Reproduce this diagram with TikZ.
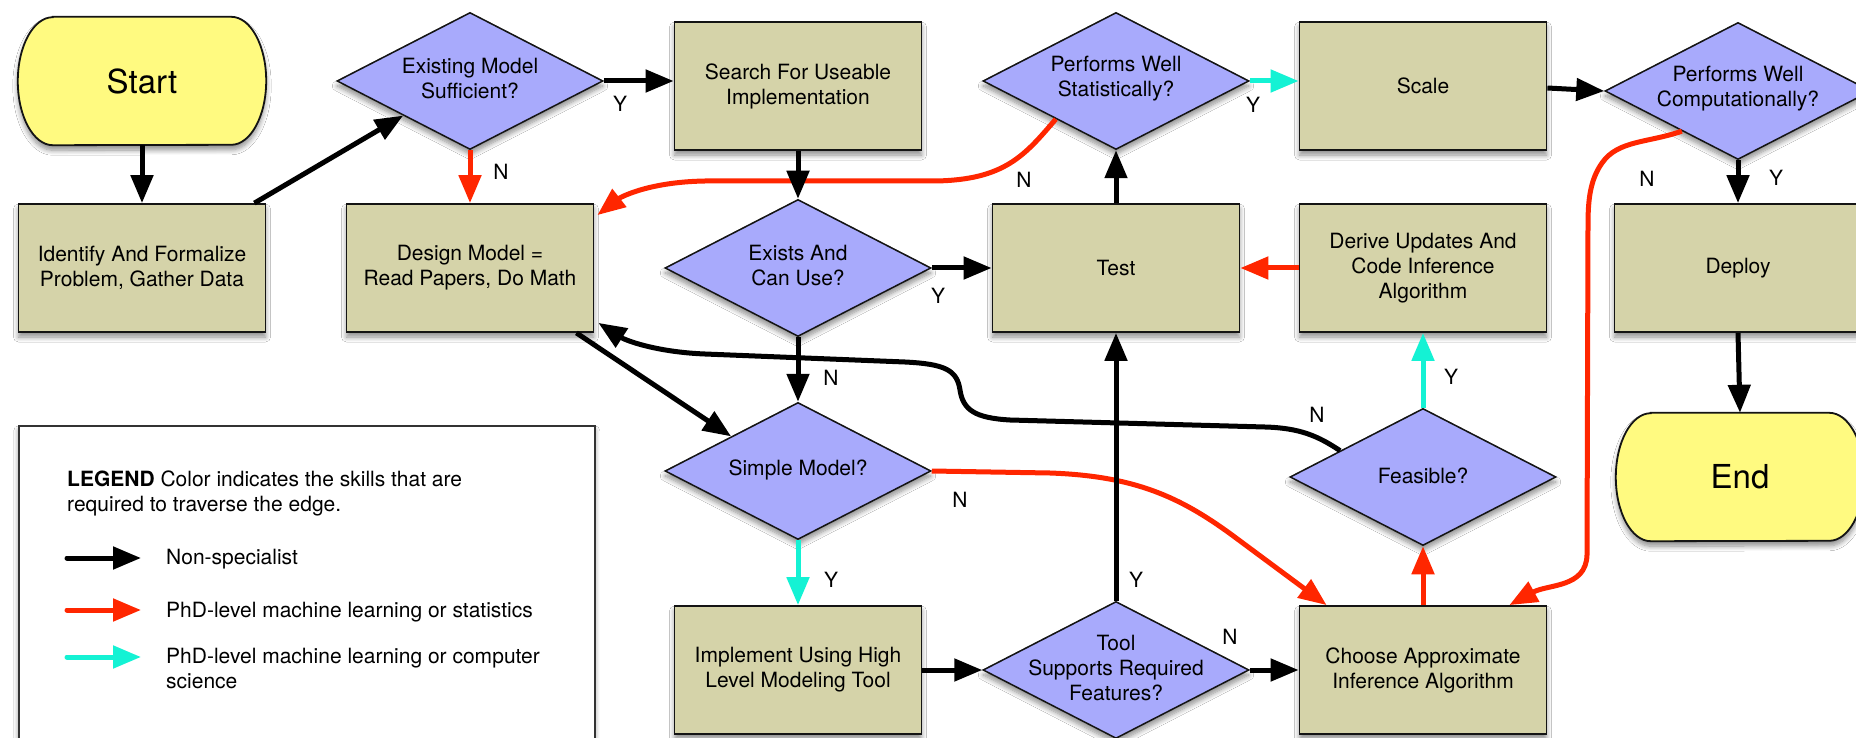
\documentclass[tikz,border=0pt]{standalone}
\usepackage{fontspec}
\setmainfont{TeX Gyre Heros}
\usetikzlibrary{arrows.meta,shapes.geometric,calc,shadows.blur}

\definecolor{boxfill}{RGB}{213,211,169}
\definecolor{diafill}{RGB}{168,170,252}
\definecolor{termfill}{RGB}{255,250,128}
\definecolor{statcol}{RGB}{255,38,0}
\definecolor{compcol}{RGB}{20,242,212}
\definecolor{edgecol}{RGB}{20,20,20}

\newcommand\flowfont{\fontsize{21}{25}\selectfont}
\newcommand\termfont{\fontsize{33}{38}\selectfont}

\tikzset{
  softshadow/.style={blur shadow={shadow xshift=0pt, shadow yshift=-5pt,
      shadow blur radius=5pt, shadow blur steps=8, shadow opacity=45}},
  proc/.style={draw=edgecol, line width=1.8pt, fill=boxfill,
      minimum width=247pt, minimum height=128pt, inner sep=0pt,
      align=center, font=\flowfont, softshadow},
  term/.style={minimum width=248pt, minimum height=128pt,
      inner sep=0pt, font=\termfont},
  termshape/.style={draw=edgecol, line width=1.8pt, fill=termfill, softshadow},
  decision/.style={diamond, draw=edgecol, line width=1.5pt, fill=diafill,
      minimum width=266pt, minimum height=137pt, inner sep=0pt, softshadow},
  dtext/.style={font=\flowfont, align=center, inner sep=0pt},
  yn/.style={font=\flowfont, inner sep=0pt},
  lgtext/.style={font=\flowfont, inner sep=0pt, anchor=base west},
  edgebase/.style={line width=5pt, -{Triangle[length=28pt,width=22pt]}},
  plainedge/.style={edgebase, draw=black, color=black},
  statedge/.style={edgebase, draw=statcol, color=statcol},
  compedge/.style={edgebase, draw=compcol, color=compcol},
}

% terminator outline with half-elliptical ends around a named node
\newcommand\terminator[1]{%
  \path[termshape] ($(#1.north west)+(35,0)$) -- ($(#1.north east)+(-35,0)$)
    arc[start angle=90, end angle=-90, x radius=35pt, y radius=64pt]
    -- ($(#1.south west)+(35,0)$)
    arc[start angle=270, end angle=90, x radius=35pt, y radius=64pt] -- cycle;}

\begin{document}
\begin{tikzpicture}[x=1pt, y=-1pt]
\useasboundingbox (0,0) rectangle (1856,738);
\clip (0,0) rectangle (1856,738);
\fill[white] (0,0) rectangle (1856,738);

% ---- legend ----
\node[draw=black!80, line width=1.5pt, fill=white, anchor=north west,
      minimum width=576pt, minimum height=340pt, softshadow] (lgd) at (18,425) {};
\node[lgtext] (lg1) at (67,486) {\textbf{LEGEND} Color indicates the skills that are};
\node[lgtext] (lg2) at (67,511) {required to traverse the edge.};
\coordinate (k1a) at (67,558); \coordinate (k1b) at (141,558);
\coordinate (k2a) at (67,610); \coordinate (k2b) at (141,610);
\coordinate (k3a) at (67,657); \coordinate (k3b) at (141,657);
\draw[plainedge, line cap=round] (k1a) -- (k1b);
\draw[statedge, line cap=round] (k2a) -- (k2b);
\draw[compedge, line cap=round] (k3a) -- (k3b);
\node[lgtext] (lg3) at (166,564) {Non-specialist};
\node[lgtext] (lg4) at (166,617) {PhD-level machine learning or statistics};
\node[lgtext] (lg5) at (166,663) {PhD-level machine learning or computer};
\node[lgtext] (lg6) at (166,688) {science};

% ---- start / end terminators ----
\coordinate (startC) at (142,81);
\coordinate (finC) at (1740,477);
\node[term] (startbox) at (startC) {};
\node[term] (finbox) at (finC) {};
\terminator{startbox}
\terminator{finbox}
\node[term] (start) at (startC) {Start};
\node[term] (fin) at (finC) {End};

% ---- flow nodes ----
\node[proc] (idf) at (142,268) {Identify And Formalize\\Problem, Gather Data};
\node[decision] (ems) at (470,81) {};
\node[dtext] (emsT) at (470,79) {Existing Model\\Sufficient?};
\node[proc] (dsg) at (470,268) {Design Model =\\Read Papers, Do Math};
\node[proc] (srch) at (798,86) {Search For Useable\\Implementation};
\node[decision] (ex) at (798,268) {};
\node[dtext] (exT) at (798,266) {Exists And\\Can Use?};
\node[proc] (tst) at (1116,268) {Test};
\node[decision] (pst) at (1116,81) {};
\node[dtext] (pstT) at (1116,79) {Performs Well\\Statistically?};
\node[proc] (scl) at (1423,86) {Scale};
\node[proc] (drv) at (1423,268) {Derive Updates And\\Code Inference\\Algorithm};
\node[decision] (pcm) at (1738,91) {};
\node[dtext] (pcmT) at (1738,89) {Performs Well\\Computationally?};
\node[proc] (dpl) at (1738,268) {Deploy};
\node[decision] (smp) at (798,471) {};
\node[dtext] (smpT) at (798,470) {Simple Model?};
\node[decision] (fea) at (1423,477) {};
\node[dtext] (feaT) at (1423,476) {Feasible?};
\node[proc] (impl) at (798,670) {Implement Using High\\Level Modeling Tool};
\node[decision] (tool) at (1116,670) {};
\node[dtext] (toolT) at (1116,668) {Tool\\Supports Required\\Features?};
\node[proc] (chs) at (1423,670) {Choose Approximate\\Inference Algorithm};

% ---- curved connectors ----
\draw[statedge] ($(pst.west)!0.55!(pst.south)$) .. controls (1025,155) and (1005,180) .. (935,181)
   -- (705,181) .. controls (645,182) and (618,199) .. ($(dsg.north east)+(3,12)$);
\draw[plainedge] ($(fea.west)!0.38!(fea.north)$) .. controls (1318,436) and (1300,428) .. (1265,427)
   -- (1010,420) .. controls (975,418) and (963,410) .. (960,390)
   .. controls (957,370) and (945,364) .. (905,362)
   -- (705,354) .. controls (655,352) and (625,340) .. ($(dsg.south east)+(4,-10)$);
\draw[statedge] (smp.east) -- (1050,473) .. controls (1135,476) and (1180,497) .. (1232,535)
   -- ($(chs.north west)+(28,0)$);
\draw[statedge] ($(pcm.west)!0.58!(pcm.south)$) .. controls (1648,143) and (1618,140) .. (1602,163)
   .. controls (1590,180) and (1588,200) .. (1588,225) -- (1587,555)
   .. controls (1586,588) and (1548,584) .. ($(chs.north east)+(-38,0)$);

% ---- straight connectors ----
\draw[plainedge] (start.south) -- (idf.north);
\draw[plainedge] ($(idf.north east)+(-12,0)$) -- ($(ems.west)!0.5!(ems.south)$);
\draw[plainedge] (ems.east) -- (ems.east -| srch.west);
\draw[statedge] (ems.south) -- (dsg.north);
\draw[plainedge] (srch.south) -- (ex.north);
\draw[plainedge] (ex.east) -- (ex.east -| tst.west);
\draw[plainedge] (ex.south) -- (smp.north);
\draw[plainedge] ($(dsg.south east)+(-18,0)$) -- ($(smp.west)!0.5!(smp.north)$);
\draw[compedge] (smp.south) -- (impl.north);
\draw[plainedge] (impl.east) -- (tool.west);
\draw[plainedge] (tool.north) -- (tst.south);
\draw[plainedge] (tool.east) -- (tool.east -| chs.west);
\draw[statedge] (chs.north) -- (fea.south);
\draw[compedge] (fea.north) -- (drv.south);
\draw[statedge] (drv.west) -- (tst.east);
\draw[plainedge] (tst.north) -- (pst.south);
\draw[compedge] (pst.east) -- (pst.east -| scl.west);
\draw[plainedge] ($(scl.east)+(0,2)$) -- (pcm.west);
\draw[plainedge] (pcm.south) -- (dpl.north);
\draw[plainedge] (dpl.south) -- (fin.north);

% ---- Y / N labels ----
\node[yn] (l1) at (620,104) {Y};
\node[yn] (l2) at (501,172) {N};
\node[yn] (l3) at (1024,180) {N};
\node[yn] (l4) at (1253,105) {Y};
\node[yn] (l5) at (938,296) {Y};
\node[yn] (l6) at (831,378) {N};
\node[yn] (l7) at (831,580) {Y};
\node[yn] (l8) at (960,500) {N};
\node[yn] (l9) at (1136,580) {Y};
\node[yn] (l10) at (1230,637) {N};
\node[yn] (l11) at (1317,415) {N};
\node[yn] (l12) at (1451,377) {Y};
\node[yn] (l13) at (1647,179) {N};
\node[yn] (l14) at (1776,178) {Y};
\end{tikzpicture}
\end{document}
